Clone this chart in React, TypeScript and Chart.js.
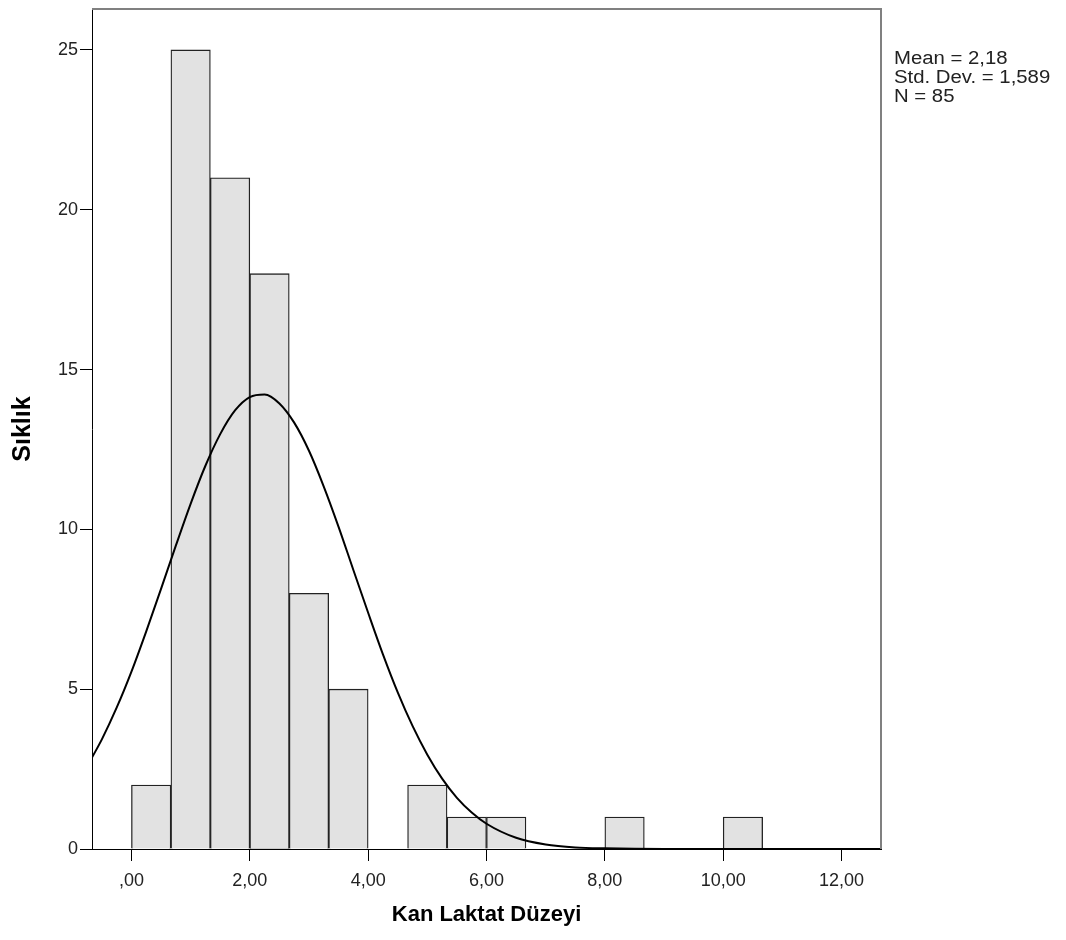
import React, { useEffect, useRef } from "react";
import { Chart, registerables } from "chart.js";

Chart.register(...registerables);

// Histogram bins (bin width 2/3 starting at 0)
const binStart = 0;
const binWidth = 2 / 3;
const counts = [2, 25, 21, 18, 8, 5, 0, 2, 1, 1, 0, 0, 1, 0, 0, 1, 0, 0, 0];

// Normal curve
const curveX = [-0.667, -0.5, -0.25, 0, 0.25, 0.5, 0.75, 1, 1.25, 1.5, 1.75, 2, 2.25, 2.5, 2.75, 3, 3.25, 3.5, 3.75, 4, 4.25, 4.5, 4.75, 5, 5.25, 5.5, 5.75, 6, 6.5, 7, 7.5, 8, 9, 10, 12.667];
const curveY = [2.86, 3.43, 4.42, 5.55, 6.81, 8.14, 9.49, 10.8, 11.99, 12.98, 13.72, 14.14, 14.22, 13.94, 13.34, 12.46, 11.34, 10.08, 8.73, 7.39, 6.09, 4.9, 3.85, 2.95, 2.2, 1.6, 1.14, 0.79, 0.35, 0.14, 0.05, 0.02, 0, 0, 0];

const xTickValues = [0, 2, 4, 6, 8, 10, 12];
const xTickLabels = [",00", "2,00", "4,00", "6,00", "8,00", "10,00", "12,00"];
const yTickValues = [0, 5, 10, 15, 20, 25];
const yTickLabels = ["0", "5", "10", "15", "20", "25"];
const statsLines = ["Mean = 2,18", "Std. Dev. = 1,589", "N = 85"];

const xTitle = "Kan Laktat Düzeyi";
const yTitle = "Sıklık";

const FAMILY = "'Liberation Sans', Arial, sans-serif";

const framePlugin = {
  id: "frame",
  afterDraw(chart: any) {
    const { ctx, chartArea } = chart;
    ctx.save();
    ctx.strokeStyle = "#808080";
    ctx.lineWidth = 2;
    ctx.beginPath();
    ctx.moveTo(chartArea.left, chartArea.top);
    ctx.lineTo(chartArea.right, chartArea.top);
    ctx.lineTo(chartArea.right, chartArea.bottom);
    ctx.stroke();
    ctx.restore();

    ctx.save();
    ctx.fillStyle = "#222";
    ctx.font = `18px ${FAMILY}`;
    ctx.textBaseline = "middle";
    ctx.textAlign = "left";
    ctx.translate(chartArea.right + 13, 0);
    ctx.scale(1.13, 1);
    statsLines.forEach((t, i) => {
      ctx.fillText(t, 0, 59 + i * 19);
    });
    ctx.restore();
  },
};

export default function App() {
  const ref = useRef<HTMLCanvasElement | null>(null);

  useEffect(() => {
    if (!ref.current) return;
    const barData = counts.map((c, i) => ({ x: binStart + (i + 0.5) * binWidth, y: c }));
    const lineData = curveX.map((x, i) => ({ x, y: curveY[i] }));
    const chart = new Chart(ref.current, {
      type: "bar",
      data: {
        datasets: [
          {
            type: "line",
            data: lineData,
            borderColor: "#000",
            borderWidth: 2,
            pointRadius: 0,
            fill: false,
            cubicInterpolationMode: "monotone",
            order: 0,
          } as any,
          {
            type: "bar",
            data: barData,
            backgroundColor: "#e2e2e2",
            borderColor: "#222",
            borderWidth: 1.3,
            barPercentage: 1,
            categoryPercentage: 1,
            order: 1,
          } as any,
        ],
      },
      options: {
        responsive: false,
        animation: false,
        devicePixelRatio: 1,
        layout: { padding: { top: 9, right: 185, left: 0, bottom: 0 } },
        plugins: { legend: { display: false }, tooltip: { enabled: false } },
        scales: {
          x: {
            type: "linear",
            min: -2 / 3,
            max: 38 / 3,
            offset: false,
            grid: {
              display: true,
              drawOnChartArea: false,
              drawTicks: true,
              tickLength: 12,
              color: "#000",
              offset: false,
            },
            border: { display: true, color: "#000", width: 1 },
            ticks: {
              font: { family: FAMILY, size: 18 },
              color: "#222",
              padding: 9,
              maxRotation: 0,
              autoSkip: false,
              callback: (v: any) => xTickLabels[xTickValues.indexOf(Number(v))] ?? "",
            },
            afterBuildTicks: (s: any) => {
              s.ticks = xTickValues.map((v) => ({ value: v }));
            },
            afterFit: (s: any) => {
              s.height = 91;
              s.paddingLeft = 0;
              s.paddingRight = 0;
            },
            title: {
              display: true,
              text: xTitle,
              font: { family: FAMILY, size: 22, weight: "bold" },
              color: "#000",
              padding: { top: 0, bottom: 12 },
            },
          } as any,
          y: {
            type: "linear",
            min: 0,
            max: 26.28,
            grid: {
              display: true,
              drawOnChartArea: false,
              drawTicks: true,
              tickLength: 12,
              color: "#000",
            },
            border: { display: true, color: "#000", width: 1 },
            ticks: {
              font: { family: FAMILY, size: 18 },
              color: "#222",
              padding: 2,
              callback: (v: any) => yTickLabels[yTickValues.indexOf(Number(v))] ?? "",
            },
            afterBuildTicks: (s: any) => {
              s.ticks = yTickValues.map((v) => ({ value: v }));
            },
            afterFit: (s: any) => {
              s.width = 92;
              s.paddingTop = 0;
              s.paddingBottom = 0;
            },
            title: {
              display: true,
              text: yTitle,
              font: { family: FAMILY, size: 25, weight: "bold" },
              color: "#000",
              padding: { top: 8, bottom: 0 },
            },
          } as any,
        },
      },
      plugins: [framePlugin],
    });
    return () => chart.destroy();
  }, []);

  return (
    <div style={{ position: "absolute", left: 0, top: 0, width: 1066, height: 940, background: "#fff" }}>
      <canvas ref={ref} width={1066} height={940} style={{ display: "block" }} />
    </div>
  );
}
